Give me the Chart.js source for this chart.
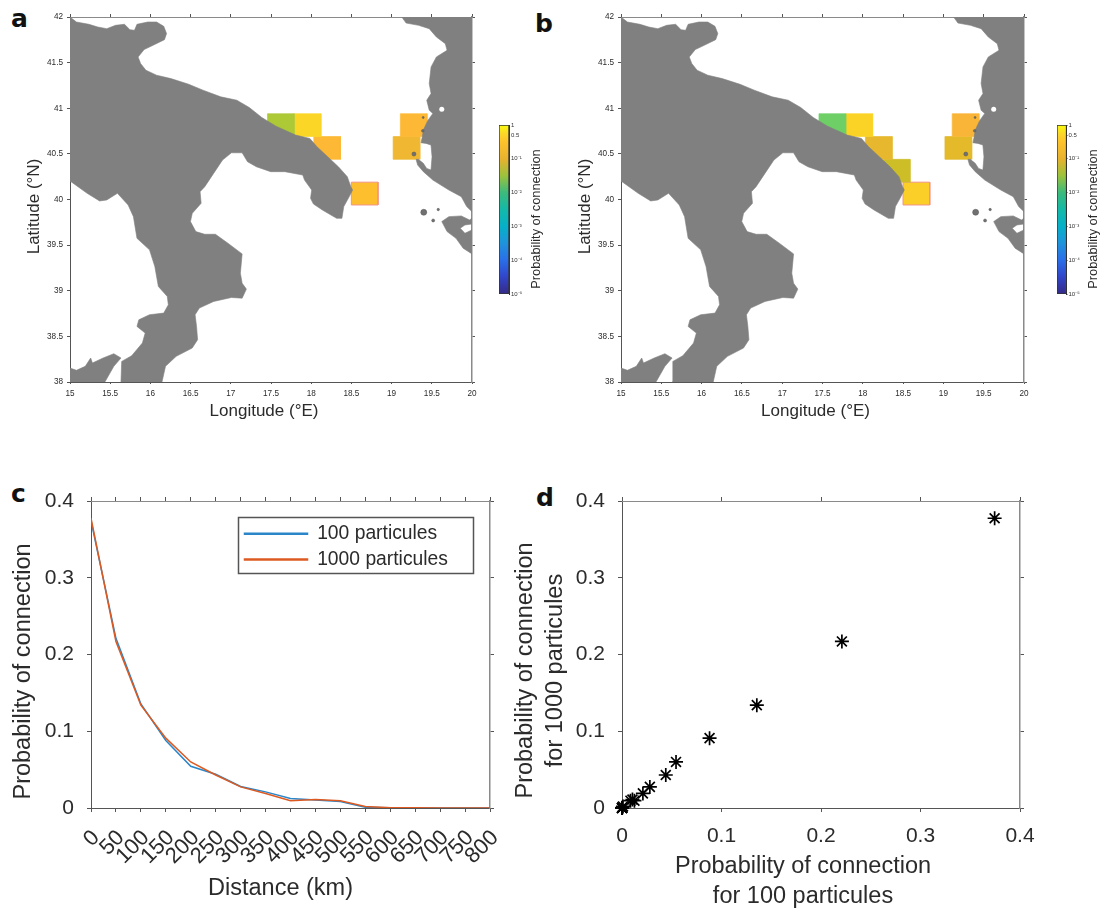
<!DOCTYPE html>
<html><head><meta charset="utf-8">
<script src="https://cdn.jsdelivr.net/npm/chart.js@4/dist/chart.umd.js"></script>
<style>
html,body{margin:0;padding:0;background:#fff;width:1102px;height:908px;overflow:hidden}
canvas{position:absolute}
.tag{position:absolute;font:bold 25px "DejaVu Sans";line-height:1;color:#111}
</style></head><body>
<div class="tag" style="left:11px;top:6px">a</div>
<div class="tag" style="left:535px;top:11px">b</div>
<div class="tag" style="left:11px;top:481px">c</div>
<div class="tag" style="left:536px;top:485px">d</div>
<script>
// ---------- data ----------
const distanceKm = [0,50,100,150,200,250,300,350,400,450,500,550,600,650,700,750,800];
const p100  = [.3745,.221,.1355,.088,.0543,.044,.028,.021,.0125,.0105,.0085,.001,.0003,.0002,.0001,0,0];
const p1000 = [.3775,.217,.134,.091,.060,.043,.0275,.019,.0095,.011,.0095,.002,.0004,.0002,.0001,0,0];

const italy = [[15,42],[15.08,41.945],[15.235,41.92],[15.346,41.89],[15.457,41.872],[15.567,41.909],[15.678,41.92],[15.745,41.861],[15.802,41.854],[15.833,41.92],[15.966,41.945],[16.077,41.945],[16.166,41.898],[16.201,41.818],[16.175,41.752],[16.033,41.69],[15.922,41.643],[15.847,41.562],[15.878,41.49],[15.944,41.417],[16.077,41.362],[16.255,41.325],[16.476,41.263],[16.654,41.198],[16.875,41.125],[17.075,41.088],[17.23,41.008],[17.385,40.899],[17.562,40.804],[17.806,40.706],[17.983,40.669],[18.072,40.578],[18.205,40.469],[18.338,40.359],[18.449,40.25],[18.493,40.14],[18.515,40.104],[18.462,40.013],[18.405,39.922],[18.382,39.794],[18.316,39.794],[18.139,39.885],[18.028,39.951],[17.992,40.013],[18.006,40.104],[17.917,40.213],[17.895,40.268],[17.673,40.305],[17.496,40.305],[17.318,40.359],[17.208,40.414],[17.141,40.512],[17.008,40.512],[16.897,40.432],[16.786,40.286],[16.676,40.14],[16.618,40.086],[16.631,39.958],[16.521,39.849],[16.498,39.758],[16.565,39.648],[16.676,39.619],[16.809,39.619],[16.964,39.521],[17.141,39.404],[17.119,39.193],[17.141,39.083],[17.194,39.018],[17.141,38.919],[17.008,38.926],[16.787,38.883],[16.609,38.81],[16.556,38.737],[16.574,38.609],[16.587,38.463],[16.52,38.372],[16.321,38.281],[16.188,38.172],[16.144,38],[15.634,38],[15.643,38.226],[15.767,38.288],[15.9,38.427],[15.935,38.536],[15.833,38.609],[15.856,38.682],[15.989,38.737],[16.166,38.755],[16.223,38.846],[16.21,38.937],[16.099,39.047],[16.055,39.265],[15.989,39.448],[15.833,39.575],[15.789,39.812],[15.723,39.94],[15.59,40.068],[15.457,39.995],[15.368,39.984],[15.213,40.068],[15.013,40.195],[15,40.195]];
const sicily = [[15,38.153],[15.08,38.128],[15.19,38.172],[15.257,38.263],[15.279,38.208],[15.412,38.263],[15.545,38.31],[15.634,38.263],[15.545,38.172],[15.434,38],[15,38]];
const balkans = [[19.127,42],[19.18,41.934],[19.335,41.909],[19.468,41.872],[19.557,41.781],[19.668,41.708],[19.69,41.635],[19.557,41.562],[19.491,41.453],[19.468,41.271],[19.491,41.161],[19.437,41.088],[19.468,40.979],[19.513,40.943],[19.449,40.864],[19.395,40.761],[19.382,40.688],[19.366,40.622],[19.428,40.615],[19.49,40.597],[19.503,40.469],[19.49,40.323],[19.436,40.341],[19.395,40.396],[19.333,40.44],[19.304,40.44],[19.324,40.378],[19.395,40.305],[19.513,40.213],[19.712,40.104],[19.867,40.031],[19.934,39.922],[20,39.867],[20,42]];
const corfu = [[19.624,39.758],[19.712,39.812],[19.867,39.82],[19.969,39.776],[20,39.794],[20,39.732],[19.912,39.721],[19.854,39.685],[19.912,39.63],[20,39.667],[20,39.404],[19.89,39.466],[19.801,39.575],[19.69,39.648]];
const lakes = [[19.43,41.33],[19.624,40.99]];
const islets = [[19.40,39.86],[19.58,39.89],[19.517,39.77],[19.278,40.498],[19.393,40.899],[19.388,40.753]];

const cellLonA = [17.622,17.956,18.198,18.665,19.275,19.185];
const cellLatA = [40.815,40.815,40.565,40.065,40.815,40.565];
const cellColA = ['#aec936','#fbd627','#fdb935','#fdbf2e','#fdb835','#efb732'];
const cellLonB = [17.622,17.956,18.198,18.42,18.665,19.275,19.185];
const cellLatB = [40.815,40.815,40.565,40.315,40.065,40.815,40.565];
const cellColB = ['#6fcf67','#fbd327','#e7b82d','#cdbe27','#fbcf28','#f9b537','#e4b92a'];
const sourceLat = 40.065;

const cbTicks  = [1e-5,1e-4,1e-3,1e-2,1e-1,0.5,1];
const cbLabels = ['10⁻⁵','10⁻⁴','10⁻³','10⁻²','10⁻¹','0.5','1'];
const parulaPos = [0,.1,.2,.3,.4,.5,.6,.7,.8,.9,.95,1];
const parulaCol = ['#352a87','#3145c8','#2a6ee8','#1f93dc','#06b0c8','#14b9a8','#3cba7c','#9cc23c','#e8b22e','#fdc22c','#fbd827','#f9fb0e'];

// ---------- helpers ----------
const FONT = '"Liberation Sans", Arial, sans-serif';
const TXT = '#2b2b2b', AX = '#555', AX2 = '#8a8a8a';
const fmt = v => String(+(+v).toFixed(2));
function mkCanvas(x,y,w,h){const c=document.createElement('canvas');c.width=w;c.height=h;c.style.left=x+'px';c.style.top=y+'px';document.body.appendChild(c);return c;}
function shiftTitle(dx,dy){return s=>{ if(s.__sh) return; s.__sh=true; const o=s.drawTitle; s.drawTitle=function(){const c=s.ctx;c.save();c.translate(dx,dy);o.call(s);c.restore();};};}
function shiftLabels(s,dx){ if(s.__sl) return; s.__sl=true; const o=s.drawLabels; s.drawLabels=function(a){const c=s.ctx;c.save();c.translate(dx,0);o.call(s,a);c.restore();};}
function frameScales(c){
  const m=c.margins, t=c.tickLen;
  return {
    x:{type:'linear',position:'bottom',min:c.xr[0],max:c.xr[1],
      afterFit:s=>{s.height=m.b; shiftTitle(c.xShift[0],c.xShift[1])(s); if(c.labelDx) shiftLabels(s,c.labelDx);},
      border:{color:AX,width:1},
      grid:{drawOnChartArea:false,color:AX,tickLength:c.xTickLen===undefined?t:c.xTickLen},
      ticks:{stepSize:c.xStep,callback:fmt,autoSkip:false,color:TXT,padding:c.xPad,maxRotation:c.rot||0,minRotation:c.rot||0,font:{family:FONT,size:c.xTick||c.tick}},
      title:{display:true,text:c.xTitle,color:TXT,padding:0,font:{family:FONT,size:c.titleSize,lineHeight:1.25}}},
    y:{type:'linear',position:'left',min:c.yr[0],max:c.yr[1],
      afterFit:s=>{s.width=m.l; shiftTitle(c.yShift[0],c.yShift[1])(s);},
      border:{color:AX,width:1},
      grid:{drawOnChartArea:false,color:AX,tickLength:t},
      ticks:{stepSize:c.yStep,callback:fmt,autoSkip:false,color:TXT,padding:c.yPad,font:{family:FONT,size:c.tick}},
      title:{display:true,text:c.yTitle,color:TXT,padding:0,font:{family:FONT,size:c.titleSize,lineHeight:1.25}}},
    xTop:{type:'linear',position:'top',min:c.xr[0],max:c.xr[1],afterFit:s=>{s.height=m.t;},
      border:{color:AX2,width:1},
      grid:{drawOnChartArea:false,color:AX,tickLength:t},
      ticks:{stepSize:c.xStep,display:false}},
    yRight:{type:'linear',position:'right',min:c.yr[0],max:c.yr[1],afterFit:s=>{s.width=m.r;},
      border:{color:AX2,width:1.5},
      grid:{drawOnChartArea:false,color:AX,tickLength:t},
      ticks:{stepSize:c.yStep,display:false}}
  };
}
const poly = (pts,color) => ({type:'scatter',data:pts.concat([pts[0]]).map(p=>({x:p[0],y:p[1]})),showLine:true,fill:'shape',backgroundColor:color,borderColor:color,borderWidth:.6,pointRadius:0,tension:0});
function cellPoly(lon,lat,col){
  const hw=.166,hh=.125;
  const d=poly([[lon-hw,lat+hh],[lon+hw,lat+hh],[lon+hw,lat-hh],[lon-hw,lat-hh]],col);
  d.borderColor = lat===sourceLat ? '#f2938a' : col+'aa';
  d.borderWidth = 1;
  return d;
}
function mapChart(cv,lons,lats,cols,xShift,yShift){
  const datasets=[
    {type:'scatter',data:lakes.map(p=>({x:p[0],y:p[1]})),pointRadius:2.5,pointBackgroundColor:'#fff',pointBorderWidth:0,showLine:false},
    {type:'scatter',data:islets.map(p=>({x:p[0],y:p[1]})),pointRadius:[3,1.2,1.5,2,1,1.3],pointBackgroundColor:'#707070',pointBorderColor:'#555',pointBorderWidth:.5,showLine:false},
    poly(italy,'#808080'),poly(sicily,'#808080'),poly(balkans,'#808080'),poly(corfu,'#808080')
  ];
  lons.forEach((l,i)=>datasets.push(cellPoly(l,lats[i],cols[i])));
  new Chart(cv,{type:'scatter',data:{datasets},options:{responsive:false,animation:false,
    plugins:{legend:{display:false},tooltip:{enabled:false}},
    layout:{padding:0},
    scales:frameScales({xr:[15,20],yr:[38,42],xStep:.5,yStep:.5,tick:8.2,titleSize:17,tickLen:3,xTickLen:2,
      xPad:5,yPad:4,margins:{l:cv.__m.l,r:cv.__m.r,t:cv.__m.t,b:cv.__m.b},
      xTitle:'Longitude (°E)',yTitle:'Latitude (°N)',xShift,yShift})}});
}
function colorbar(cv,barW,dx,dy){
  new Chart(cv,{type:'bar',data:{labels:['p'],datasets:[{data:[[cbTicks[0],cbTicks[cbTicks.length-1]]],
      barPercentage:1,categoryPercentage:1,borderColor:'#333',borderWidth:1,borderSkipped:false,
      backgroundColor:ctx=>{const a=ctx.chart.chartArea; if(!a) return '#888';
        const g=ctx.chart.ctx.createLinearGradient(0,a.bottom,0,a.top);
        parulaPos.forEach((p,i)=>g.addColorStop(p,parulaCol[i])); return g;}}]},
    options:{responsive:false,animation:false,layout:{padding:{top:10,bottom:10}},
      plugins:{legend:{display:false},tooltip:{enabled:false}},
      scales:{
        x:{display:false},
        y:{type:'logarithmic',position:'right',min:1e-5,max:1,
          afterBuildTicks:s=>{s.ticks=cbTicks.map(v=>({value:v}));},
          afterFit:s=>{s.width=cv.width-9-barW;},
          border:{color:'#333'},grid:{drawOnChartArea:false,color:'#444',tickLength:1},
          ticks:{autoSkip:false,color:'#333',padding:1,font:{family:FONT,size:6},callback:v=>{const i=cbTicks.findIndex(t=>Math.abs(t-v)<t*1e-6);return i<0?'':cbLabels[i];}}},
        t:{type:'linear',position:'left',min:0,max:1,
          afterFit:s=>{s.width=9; shiftTitle(dx,dy)(s);},
          border:{display:false},grid:{display:false},ticks:{display:false},
          title:{display:true,text:'Probability of connection',color:TXT,padding:0,font:{family:FONT,size:12.8}}}
      }}});
}

// ---------- panel a, b ----------
const ca=mkCanvas(20,0,470,430); ca.__m={l:50,r:18,t:17,b:48};
mapChart(ca,cellLonA,cellLatA,cellColA,[-7,-8],[4,7]);
const cb=mkCanvas(571,0,470,430); cb.__m={l:50,r:17,t:17,b:48};
mapChart(cb,cellLonB,cellLatB,cellColB,[-7,-8],[4,7]);
colorbar(mkCanvas(490,115,70,189),10,39,9.5);
colorbar(mkCanvas(1048,115,54,189),9.5,38,9.5);

// ---------- panel c ----------
const legendFrame={id:'legendFrame',
  afterLayout(ch){const L=ch.legend; L.left=238; L.top=46.5; L.right=474; L.bottom=330; L.width=236; L.height=283.5;},
  afterDraw(ch){const c=ch.ctx;c.save();c.strokeStyle='#555';c.lineWidth=1.5;c.strokeRect(238.5,46.5,235,56);c.restore();}};
const cc=mkCanvas(0,471,530,437);
new Chart(cc,{type:'line',data:{datasets:[
    {label:'100 particules',data:distanceKm.map((d,i)=>({x:d,y:p100[i]})),borderColor:'#2a86c8',backgroundColor:'#2a86c8',borderWidth:1.5,pointRadius:0,order:2},
    {label:'1000 particules',data:distanceKm.map((d,i)=>({x:d,y:p1000[i]})),borderColor:'#dc5a22',backgroundColor:'#dc5a22',borderWidth:1.5,pointRadius:0,order:1}]},
  options:{responsive:false,animation:false,layout:{padding:0},
    plugins:{tooltip:{enabled:false},
      legend:{display:true,position:'chartArea',align:'start',
        labels:{boxWidth:63,boxHeight:1,padding:6.5,color:TXT,sort:(a,b)=>a.datasetIndex-b.datasetIndex,font:{family:FONT,size:19.3}}}},
    scales:frameScales({xr:[0,800],yr:[0,.4],xStep:50,yStep:.1,tick:21,xTick:22,titleSize:23.5,tickLen:4,
      xPad:13,yPad:13,rot:45,labelDx:5,margins:{l:91,r:40,t:30,b:100},
      xTitle:'Distance (km)',yTitle:'Probability of connection',xShift:[-10,-5],yShift:[9,17]})},
  plugins:[legendFrame]});

// ---------- panel d ----------
const pairs=p100.map((v,i)=>({x:v,y:p1000[i]}));
const cd=mkCanvas(510,471,592,437);
new Chart(cd,{type:'scatter',data:{datasets:[{data:pairs,pointStyle:'star',pointRadius:7,borderColor:'#000',backgroundColor:'#000',borderWidth:1.7,clip:false}]},
  options:{responsive:false,animation:false,layout:{padding:0},
    plugins:{legend:{display:false},tooltip:{enabled:false}},
    scales:frameScales({xr:[0,.4],yr:[0,.4],xStep:.1,yStep:.1,tick:21,titleSize:23.5,tickLen:4,
      xPad:12,yPad:13,margins:{l:112,r:82,t:30,b:100},
      xTitle:['Probability of connection','for 100 particules'],yTitle:['Probability of connection','for 1000 particules'],
      xShift:[-18,3],yShift:[1,16]})}});
</script>
</body></html>
